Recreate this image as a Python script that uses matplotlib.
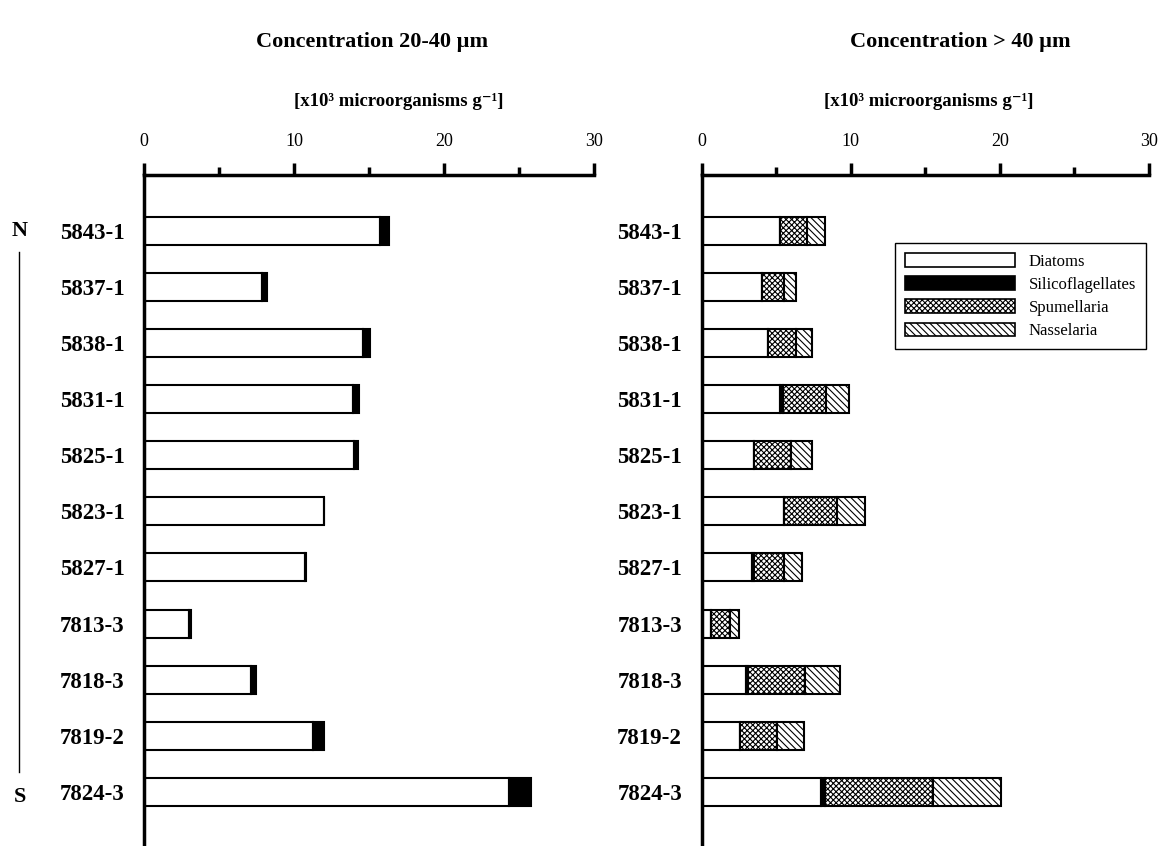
import matplotlib
matplotlib.use("Agg")
import matplotlib.pyplot as plt
from matplotlib.patches import Patch
from matplotlib.lines import Line2D
import numpy as np

plt.rcParams['font.family'] = ['Liberation Serif', 'DejaVu Serif']
plt.rcParams['hatch.linewidth'] = 0.8

stations = ["5843-1", "5837-1", "5838-1", "5831-1", "5825-1", "5823-1",
            "5827-1", "7813-3", "7818-3", "7819-2", "7824-3"]

# 20-40 µm fraction
left_diatoms = [15.7, 7.87, 14.6, 13.9, 14.0, 12.0, 10.7, 3.0, 7.13, 11.25, 24.33]
left_silico = [0.6, 0.33, 0.47, 0.45, 0.25, 0.0, 0.1, 0.13, 0.34, 0.77, 1.47]

# > 40 µm fraction
right_diatoms = [5.29, 4.08, 4.44, 5.29, 3.53, 5.51, 3.39, 0.67, 2.95, 2.57, 7.99]
right_silico = [0.0, 0.0, 0.0, 0.15, 0.0, 0.0, 0.15, 0.0, 0.15, 0.0, 0.27]
right_spum = [1.76, 1.48, 1.90, 2.91, 2.50, 3.57, 1.99, 1.25, 3.87, 2.47, 7.23]
right_nass = [1.21, 0.80, 1.09, 1.54, 1.40, 1.86, 1.21, 0.58, 2.34, 1.81, 4.60]

series_names = ["Diatoms", "Silicoflagellates", "Spumellaria", "Nasselaria"]
xticks = [0, 10, 20, 30]
titles = ["Concentration 20-40 µm", "Concentration > 40 µm"]
unit_label = "[x10³ microorganisms g⁻¹]"

W, H = 1163, 846
fig = plt.figure(figsize=(W / 100, H / 100), dpi=100)

def fx(px):
    return px / W

def fy(py):
    return 1 - py / H

top_px, bot_px = 175, 859
ax1 = fig.add_axes([fx(144), fy(bot_px), fx(594) - fx(144), fy(top_px) - fy(bot_px)])
ax2 = fig.add_axes([fx(701.5), fy(bot_px), fx(1149) - fx(701.5), fy(top_px) - fy(bot_px)])

y = np.arange(len(stations))
h = 0.5
ec = 'black'
lw = 1.5

styles = [dict(color='white'), dict(color='black'),
          dict(color='white', hatch='xxxxxx'), dict(color='white', hatch='\\\\\\\\\\')]

# left
ax1.barh(y, left_diatoms, height=h, color='white', edgecolor=ec, linewidth=lw)
ax1.barh(y, left_silico, left=left_diatoms, height=h, color='black', edgecolor=ec, linewidth=lw)

# right
left = np.zeros(len(stations))
for vals, st in zip([right_diatoms, right_silico, right_spum, right_nass], styles):
    ax2.barh(y, vals, left=left, height=h, color=st['color'], hatch=st.get('hatch'),
             edgecolor=ec, linewidth=lw)
    left = left + np.array(vals)

for ax in (ax1, ax2):
    ax.set_xlim(0, 30)
    ax.set_ylim(11.2, -1.0)
    ax.xaxis.tick_top()
    ax.set_xticks(xticks)
    ax.set_xticks([5, 15, 25], minor=True)
    ax.tick_params(axis='x', which='major', direction='out', length=9, width=2.5,
                   pad=9, labelsize=13)
    ax.tick_params(axis='x', which='minor', direction='out', length=6, width=2.5)
    ax.spines['right'].set_visible(False)
    ax.spines['bottom'].set_visible(False)
    ax.spines['top'].set_linewidth(2.5)
    ax.spines['left'].set_linewidth(2.5)
    ax.set_yticks(y)
    ax.set_yticklabels(stations, fontsize=16.5, fontweight='bold')
    ax.tick_params(axis='y', length=0, pad=14)

# titles and unit labels
fig.text(fx(372), fy(42), titles[0], ha='center', va='center', fontsize=16, fontweight='bold')
fig.text(fx(960), fy(42), titles[1], ha='center', va='center', fontsize=16, fontweight='bold')
fig.text(fx(399), fy(101), unit_label, ha='center', va='center', fontsize=13.5, fontweight='bold')
fig.text(fx(929), fy(101), unit_label, ha='center', va='center', fontsize=13.5, fontweight='bold')

# N / S markers
fig.text(fx(20), fy(231), "N", ha='center', va='center', fontsize=16, fontweight='bold')
fig.text(fx(20), fy(797), "S", ha='center', va='center', fontsize=16, fontweight='bold')
fig.add_artist(Line2D([fx(19), fx(19)], [fy(252), fy(772)], transform=fig.transFigure,
                      color='black', linewidth=1))

# legend
handles = [Patch(facecolor=st['color'], hatch=st.get('hatch'), edgecolor='black', linewidth=1.2)
           for st in styles]
leg = ax2.legend(handles, series_names, loc='upper left',
                 bbox_to_anchor=(fx(887), fy(235)), bbox_transform=fig.transFigure,
                 fontsize=12, handlelength=6.6, handleheight=0.85, handletextpad=0.8,
                 labelspacing=0.4, borderpad=0.6, frameon=True, fancybox=False,
                 edgecolor='black', framealpha=1)
leg.get_frame().set_linewidth(1.0)

fig.savefig("out.png", dpi=100)
